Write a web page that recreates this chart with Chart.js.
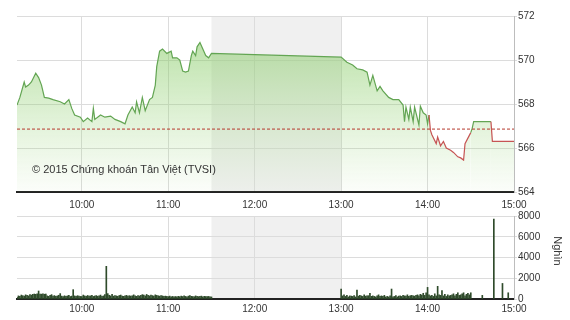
<!DOCTYPE html>
<html><head><meta charset="utf-8">
<script src="https://cdn.jsdelivr.net/npm/chart.js@4.4.0/dist/chart.umd.min.js"></script>
<style>
html,body{margin:0;padding:0;background:#fff;width:570px;height:320px;overflow:hidden;}
#wrap{position:relative;width:570px;height:320px;}
#c1{position:absolute;left:0;top:0;}
#c2{position:absolute;left:0;top:190px;}
#copy{position:absolute;left:32px;top:163px;font:11px "Liberation Sans",Arial,sans-serif;color:#333;white-space:nowrap;}
#unit{position:absolute;left:534px;top:245px;width:48px;text-align:center;font:11px "Liberation Sans",Arial,sans-serif;color:#333;transform:rotate(90deg);}
</style></head>
<body><div id="wrap">
<canvas id="c1" width="570" height="200"></canvas>
<canvas id="c2" width="570" height="130"></canvas>
<div id="copy">© 2015 Chứng khoán Tân Việt (TVSI)</div>
<div id="unit">Nghìn</div>
</div>
<script>
// ---- data ----
const refPrice = 566.86;
const lunchBreak = ["11:30", "13:00"];
const axisRange = ["9:15", "15:00"];
const priceTickValues = [564, 566, 568, 570, 572];
const volumeTickValues = [0, 2000, 4000, 6000, 8000];

const priceTimes = ["9:15","9:17","9:20","9:21","9:23","9:25","9:28","9:30","9:32","9:34","9:37","9:40","9:45","9:48","9:51","9:53","9:55","9:59",
 "10:01","10:04","10:07","10:08","10:09","10:13","10:16","10:20","10:23","10:27","10:30","10:32","10:35","10:37","10:38","10:40","10:42","10:44","10:47","10:49","10:51","10:52","10:54","10:56","10:59",
 "11:02","11:03","11:06","11:08","11:10","11:12","11:14","11:16","11:17","11:19","11:20","11:22","11:24","11:26","11:28","11:30",
 "13:00","13:04","13:08","13:11","13:15","13:18","13:20","13:22","13:25","13:27","13:29","13:33","13:36","13:40","13:43","13:44","13:45","13:47","13:48","13:50","13:51","13:54","13:55","13:57","13:59",
 "14:00","14:01","14:02","14:03","14:06","14:07","14:09","14:11","14:13","14:16","14:18","14:21","14:23","14:25","14:26","14:28","14:30","14:31","14:32","14:44","14:45","15:00"];
const priceValues = [567.95,568.3,569.0,568.77,568.86,569.0,569.4,569.2,568.86,568.3,568.27,568.2,568.1,568.0,568.2,567.8,567.5,567.4,
 567.2,567.36,567.2,567.8,567.3,567.5,567.4,567.45,567.3,567.2,567.1,567.5,567.86,567.6,568.1,567.6,568.3,567.7,568.2,568.3,568.86,569.7,570.4,570.5,570.3,
 570.4,570.1,570.1,570.0,569.5,569.45,569.5,570.2,570.4,570.2,570.6,570.8,570.5,570.2,570.1,570.3,
 570.13,569.9,569.77,569.6,569.55,569.45,568.86,569.3,568.6,568.8,568.6,568.3,568.2,568.2,567.95,567.2,567.86,567.3,567.86,567.2,567.86,567.05,567.9,567.6,567.5,
 567.1,567.5,566.8,566.6,566.2,566.5,566.1,566.3,566.0,565.9,565.8,565.6,565.55,565.45,566.2,566.45,566.7,566.9,567.2,567.2,566.3,566.3];

// volume (thousand shares), one value per minute
const volMorningStart = "9:15";
const volMorning = [
 150,300,250,380,320,280,400,350,300,420,380,460,480,450,500,
 770,480,470,490,460,480,300,260,350,420,280,330,250,300,360,
 520,280,240,310,260,300,350,240,280,900,300,260,320,280,250,
 240,380,300,260,340,280,300,360,250,290,330,270,310,380,260,
 300,420,3150,520,360,300,450,280,320,300,260,340,380,290,260,
 300,350,270,320,280,310,400,300,260,330,290,350,420,380,300,
 440,350,300,380,330,290,400,350,310,280,330,300,260,280,250,
 230,280,200,250,220,240,200,260,220,280,240,300,250,220,280,
 320,260,240,220,300,260,230,250,280,220,260,240,230,250,210,
 200];
const volAfternoonStart = "13:00";
const volAfternoon = [
 960,300,400,250,350,200,300,280,250,320,200,860,280,350,300,
 250,400,280,300,320,550,260,300,250,200,300,400,250,300,250,
 350,200,250,200,300,960,200,250,320,200,280,300,250,350,300,
 280,400,250,320,350,300,280,350,400,300,450,380,550,350,600,
 1120,400,300,350,250,500,300,1220,400,350,800,300,450,250,400,
 300,350,400,500,300,450,600,350,400,500,600,300,450,550,400,
 600];
const volLateTimes = ["14:38","14:46","14:52","14:56"];
const volLateValues = [350,7700,1500,600];

// ---- helpers ----
const toMin = s => { const [h,m] = s.split(":").map(Number); return h*60+m; };
const fmt = v => Math.floor(v/60) + ":" + String(v%60).padStart(2,"0");
const xMin = toMin(axisRange[0]), xMax = toMin(axisRange[1]);
const hourTicks = s => { s.ticks = s.ticks.filter(t => t.value % 60 === 0 && t.value > xMin); };

Chart.defaults.font.family = '"Liberation Sans", Arial, sans-serif';
Chart.defaults.font.size = 10;
Chart.defaults.color = '#333';
Chart.defaults.animation = false;

const GREEN = '#63a553', RED = '#c65454', GRID = '#dcdcdc';

const lunchBand = {
  id: 'lunchBand',
  beforeDraw(chart) {
    const a = chart.chartArea, x = chart.scales.x, c = chart.ctx;
    const x0 = x.getPixelForValue(toMin(lunchBreak[0])), x1 = x.getPixelForValue(toMin(lunchBreak[1]));
    c.save(); c.fillStyle = '#f0f0f0'; c.fillRect(x0, a.top, x1 - x0, a.bottom - a.top); c.restore();
  }
};

const pricePoints = priceTimes.map((t, i) => ({x: toMin(t), y: priceValues[i]}));

new Chart(document.getElementById('c1'), {
  type: 'line',
  data: { datasets: [
    { data: [{x: xMin, y: refPrice}, {x: xMax, y: refPrice}], borderColor: '#b5372b', borderWidth: 1,
      borderDash: [3, 2], pointRadius: 0, fill: false },
    { data: pricePoints, borderColor: GREEN, borderWidth: 1.2, pointRadius: 0, tension: 0,
      segment: { borderColor: c => c.p1.parsed.y < refPrice ? RED : GREEN },
      fill: 'start',
      backgroundColor: (ctx) => {
        const a = ctx.chart.chartArea; if (!a) return 'rgba(0,0,0,0)';
        const g = ctx.chart.ctx.createLinearGradient(0, a.top, 0, a.bottom);
        g.addColorStop(0, 'rgba(125,198,90,0.62)');
        g.addColorStop(1, 'rgba(160,215,130,0.04)');
        return g;
      } }
  ]},
  options: {
    responsive: false, animation: false,
    layout: { padding: { left: 17, top: 16, right: 0, bottom: 0 } },
    plugins: { legend: { display: false }, tooltip: { enabled: false } },
    scales: {
      x: { type: 'linear', min: xMin, max: xMax, ticks: { display: false, stepSize: 60 },
           afterBuildTicks: hourTicks, afterFit: s => { s.height = 8; },
           grid: { color: GRID, drawTicks: false, tickLength: 0 },
           border: { color: '#222', width: 2 } },
      y: { position: 'right', min: 564, max: 572,
           afterBuildTicks: s => { s.ticks = priceTickValues.map(v => ({value: v})); },
           afterFit: s => { s.width = 56; },
           ticks: { padding: 1, callback: v => String(v) },
           grid: { color: GRID, tickLength: 3 },
           border: { color: '#bdbdbd' } }
    }
  },
  plugins: [lunchBand]
});

const volPoints = [];
volMorning.forEach((v, i) => volPoints.push({x: toMin(volMorningStart) + i, y: v}));
volAfternoon.forEach((v, i) => volPoints.push({x: toMin(volAfternoonStart) + i, y: v}));
volLateTimes.forEach((t, i) => volPoints.push({x: toMin(t), y: volLateValues[i]}));

new Chart(document.getElementById('c2'), {
  type: 'bar',
  data: { datasets: [{ data: volPoints, backgroundColor: '#2f4b2b', barThickness: 1, xAxisID: 'x', yAxisID: 'y' }] },
  options: {
    responsive: false, animation: false,
    layout: { padding: { left: 17, top: 0, right: 0, bottom: 0 } },
    plugins: { legend: { display: false }, tooltip: { enabled: false } },
    scales: {
      x: { type: 'linear', position: 'bottom', min: xMin, max: xMax, offset: false,
           ticks: { stepSize: 60, padding: 4, maxRotation: 0, callback: v => fmt(v) },
           afterBuildTicks: hourTicks, afterFit: s => { s.height = 21; },
           grid: { color: GRID, drawTicks: false, tickLength: 0, offset: false },
           border: { color: '#222', width: 2 } },
      xTop: { type: 'linear', position: 'top', min: xMin, max: xMax, offset: false,
           ticks: { stepSize: 60, padding: 5, maxRotation: 0, callback: v => fmt(v) },
           afterBuildTicks: hourTicks, afterFit: s => { s.height = 26; },
           grid: { display: false, drawTicks: false, tickLength: 0 },
           border: { display: false } },
      y: { position: 'right', min: 0, max: 8000,
           afterBuildTicks: s => { s.ticks = volumeTickValues.map(v => ({value: v})); },
           afterFit: s => { s.width = 56; },
           ticks: { padding: 1, callback: v => String(v) },
           grid: { color: GRID, tickLength: 3 },
           border: { color: '#bdbdbd' } }
    }
  },
  plugins: [lunchBand]
});
</script>
</body></html>
